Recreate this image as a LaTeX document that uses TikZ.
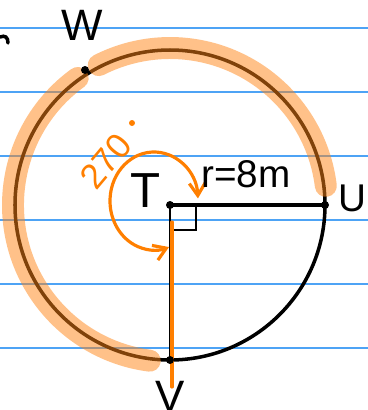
\documentclass[tikz,border=0pt]{standalone}
\usepackage{fontspec}
\setmainfont{Liberation Sans}
\usetikzlibrary{arrows.meta}
\definecolor{RuleBlue}{HTML}{4DA3F5}
\definecolor{PenOrange}{HTML}{FF7F00}
\definecolor{HiOrange}{HTML}{FF8414}
\tikzset{
    % paper and pens
    ruleline/.style={draw=RuleBlue, line width=0.9pt},
    blackpen/.style={draw=black, line width=2pt},
    thinpen/.style={draw=black, line width=1.5pt},
    highlight/.style={draw=HiOrange, draw opacity=0.5, line width=12.5pt, line cap=round},
    orangepen/.style={draw=PenOrange, line width=1.8pt, line cap=round},
    anglearrow/.style={
        orangepen,
        {Straight Barb[length=7pt,width=9pt]}-{Straight Barb[length=7pt,width=9pt]}
    },
    dotmark/.style={fill=black},
    % labels
    biglabel/.style={font=\fontsize{25}{25}\selectfont, inner sep=0pt},
    anglelabel/.style={font=\fontsize{20}{20}\selectfont, text=PenOrange, inner sep=0pt}
}

\begin{document}
\begin{tikzpicture}[x=0.02cm, y=-0.02cm]
    \useasboundingbox (0,0) rectangle (368,410);

    % ruled paper
    \foreach \y in {28,92,...,348}
        \draw[ruleline] (0,\y) -- (368,\y);

    % points
    \coordinate (T) at (170,205);
    \coordinate (U) at (325,205);
    \coordinate (V) at (170,360);
    \coordinate (W) at (85,70);

    % circle and radii
    \draw[blackpen] (T) circle[radius=155];
    \draw[blackpen] (T) -- (U);
    \draw[thinpen] (T) -- (V);
    \draw[thinpen] (T) rectangle ++(26,25);

    % highlighted major arc
    \draw[highlight] ([shift={(-7:157)}]T) arc[start angle=-7, end angle=-117, radius=157];
    \draw[highlight] ([shift={(-126:157)}]T) arc[start angle=-126, end angle=-262.6, radius=157];

    % orange marks
    \coordinate (ctr) at (154,201);
    \draw[anglearrow] ([shift={(-3:44 and 49)}]ctr) arc[start angle=-3, end angle=-290, x radius=44, y radius=49];
    \coordinate (o1) at (172,222);
    \coordinate (o2) at (172,387);
    \draw[orangepen] (o1) -- (o2);

    % dots
    \foreach \p in {T,U,V,W}
        \fill[dotmark] (\p) circle[radius=4];

    % labels
    \node[biglabel] (lW) at (82,25) {W};
    \node[biglabel, font=\fontsize{28}{28}\selectfont] (lT) at (146,191) {T};
    \node[biglabel, font=\fontsize{22}{22}\selectfont] (lr) at (246,174) {r=8m};
    \node[biglabel, font=\fontsize{22}{22}\selectfont] (lU) at (352,198) {U};
    \node[biglabel] (lV) at (170,396) {V};
    \node[anglelabel, rotate=50] (l270) at (106,161) {270};
    \fill[PenOrange] (132,123) circle[radius=3];

    % stray stroke at the edge
    \draw[blackpen, line cap=round] (0,37) .. controls (5,35) and (8,37) .. (8,43);
\end{tikzpicture}
\end{document}
